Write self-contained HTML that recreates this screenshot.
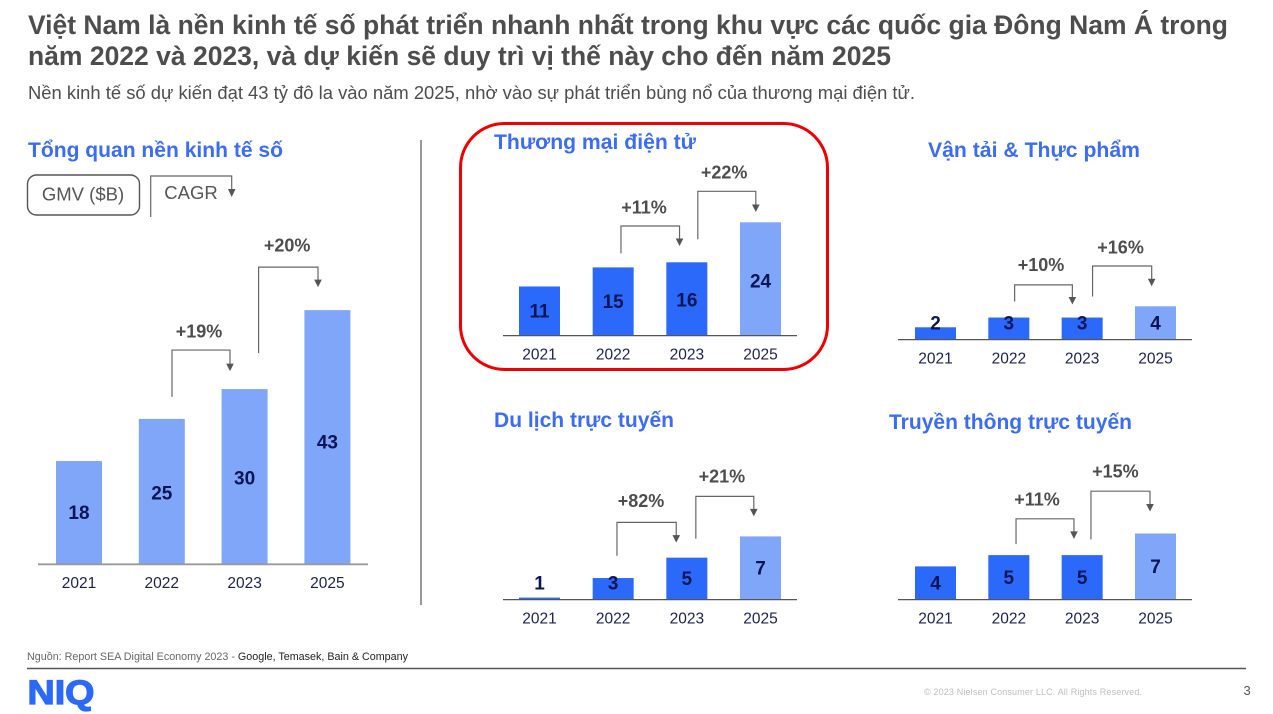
<!DOCTYPE html>
<html lang="vi">
<head>
<meta charset="utf-8">
<title>Kinh tế số Việt Nam</title>
<style>
html,body{margin:0;padding:0;background:#fff;width:1273px;height:714px;overflow:hidden}
svg{display:block}
text{font-family:"Liberation Sans","Noto Sans CJK SC",sans-serif}
.sec{font-size:21.5px;font-weight:700;fill:#3a6cf4}
</style>
</head>
<body>
<svg id="slide" xmlns="http://www.w3.org/2000/svg" width="1273" height="714" viewBox="0 0 1273 714">
  <rect x="0" y="0" width="1273" height="714" fill="#ffffff"/>
  <text x="28" y="34" font-size="27" font-weight="700" fill="#4d4d4d" textLength="1200" lengthAdjust="spacingAndGlyphs">Việt Nam là nền kinh tế số phát triển nhanh nhất trong khu vực các quốc gia Đông Nam Á trong</text>
  <text x="28" y="65" font-size="27" font-weight="700" fill="#4d4d4d" textLength="863" lengthAdjust="spacingAndGlyphs">năm 2022 và 2023, và dự kiến sẽ duy trì vị thế này cho đến năm 2025</text>
  <text x="28" y="99" font-size="18.5" fill="#4d4d4d" textLength="887" lengthAdjust="spacingAndGlyphs">Nền kinh tế số dự kiến đạt 43 tỷ đô la vào năm 2025, nhờ vào sự phát triển bùng nổ của thương mại điện tử.</text>

  <text class="sec" x="28" y="157" textLength="255" lengthAdjust="spacingAndGlyphs">Tổng quan nền kinh tế số</text>
  <text class="sec" x="494" y="149" textLength="202" lengthAdjust="spacingAndGlyphs">Thương mại điện tử</text>
  <text class="sec" x="928" y="157" textLength="212" lengthAdjust="spacingAndGlyphs">Vận tải &amp; Thực phẩm</text>
  <text class="sec" x="494" y="427" textLength="180" lengthAdjust="spacingAndGlyphs">Du lịch trực tuyến</text>
  <text class="sec" x="889" y="429" textLength="243" lengthAdjust="spacingAndGlyphs">Truyền thông trực tuyến</text>

  <rect x="27.5" y="175" width="112" height="40" rx="9" fill="none" stroke="#555555" stroke-width="1.4"/>
  <text x="83" y="200.5" font-size="18.5" fill="#555555" text-anchor="middle">GMV ($B)</text>
  <path d="M150.7 217V176H231.7V190" fill="none" stroke="#666666" stroke-width="1.2"/>
  <polygon points="228,189 235.5,189 231.7,197" fill="#555555"/>
  <text x="191" y="199" font-size="18.5" fill="#555555" text-anchor="middle">CAGR</text>

  <line x1="421" y1="140" x2="421" y2="605" stroke="#999999" stroke-width="2"/>
  <rect x="460.5" y="123.5" width="367" height="246" rx="44" fill="none" stroke="#f00000" stroke-width="3"/>

  <g id="charts"></g>

  <text x="27" y="660" font-size="10.8" fill="#666666" textLength="381" lengthAdjust="spacingAndGlyphs">Nguồn: Report SEA Digital Economy 2023 - <tspan fill="#222222">Google, Temasek, Bain &amp; Company</tspan></text>
  <line x1="27" y1="668.5" x2="1246" y2="668.5" stroke="#555555" stroke-width="1.4"/>
  <text x="27.5" y="704" font-size="34" font-weight="700" fill="#2b69fb" stroke="#2b69fb" stroke-width="1.2" textLength="67" lengthAdjust="spacingAndGlyphs">NIQ</text>
  <text x="924" y="695" font-size="9" fill="#bdbdbd" textLength="218" lengthAdjust="spacing">© 2023 Nielsen Consumer LLC. All Rights Reserved.</text>
  <text x="1243.5" y="695" font-size="13" fill="#555555">3</text>
</svg>
<script>
// Categories shared by all five charts
const years = ['2021', '2022', '2023', '2025'];

// Digital economy overview (GMV, $B)
const overviewValues = [17.6, 24.8, 29.9, 43.4];
const overviewLabels = ['18', '25', '30', '43'];
const overviewCagr = ['+19%', '+20%'];

// E-commerce
const ecommerceValues = [10.5, 14.6, 15.7, 24.3];
const ecommerceLabels = ['11', '15', '16', '24'];
const ecommerceCagr = ['+11%', '+22%'];

// Transport & food
const transportValues = [1.6, 2.9, 2.9, 4.4];
const transportLabels = ['2', '3', '3', '4'];
const transportCagr = ['+10%', '+16%'];

// Online travel
const travelValues = [0.2, 2.5, 4.9, 7.4];
const travelLabels = ['1', '3', '5', '7'];
const travelCagr = ['+82%', '+21%'];

// Online media
const mediaValues = [3.5, 4.7, 4.7, 7.0];
const mediaLabels = ['4', '5', '5', '7'];
const mediaCagr = ['+11%', '+15%'];

const NS = 'http://www.w3.org/2000/svg';
const root = document.getElementById('charts');
const DARK = '#2b69fb', LIGHT = '#7fa6f9', NAVY = '#0c1555', GREY = '#4d4d4d', LINE = '#666666';

function svgEl(tag, attrs, parent) {
  const el = document.createElementNS(NS, tag);
  for (const k in attrs) el.setAttribute(k, attrs[k]);
  parent.appendChild(el);
  return el;
}

function drawChart(name, values, labels, cagr, layout) {
  const g = svgEl('g', {}, root);
  
  

  const yOf = function (v) { return layout.base - v * layout.scale; };
  const xOf = function (i) { return layout.firstX + i * layout.step; };

  years.forEach(function (year, i) {
    const top = yOf(values[i]);
    const cx = xOf(i);
    const bar = svgEl('rect', {
      x: cx - layout.barW / 2, y: top, width: layout.barW, height: layout.base - top,
      fill: (layout.allLight || i === years.length - 1) ? LIGHT : DARK
    }, g);
    
    

    const mid = Math.min((top + layout.base) / 2, layout.base - layout.minLabel) + (layout.nudge ? layout.nudge[i] : 0);
    const val = svgEl('text', {
      x: cx, y: mid + 6.6, 'font-size': 19, 'font-weight': 700, fill: NAVY, 'text-anchor': 'middle'
    }, g);
    val.textContent = labels[i];
    
    

    const tick = svgEl('text', {
      x: cx, y: layout.base + 24, 'font-size': 15.5, fill: '#1b2050', 'text-anchor': 'middle'
    }, g);
    tick.textContent = year;
    
    
  });

  const axis = svgEl('line', {
    x1: layout.axisL, x2: layout.axisR, y1: layout.base + 0.3, y2: layout.base + 0.3,
    stroke: layout.axisColor, 'stroke-width': layout.axisW
  }, g);
  
  

  layout.brackets.forEach(function (b, k) {
    const i = k + 1;
    const x1 = xOf(i) + b.dxFrom;
    const x2 = xOf(i + 1) + b.dxTo;
    const y1 = yOf(values[i]) - b.startGap;
    const tip = yOf(values[i + 1]) - b.endGap;
    const top = tip - b.lead;

    const path = svgEl('path', {
      d: 'M' + x1 + ' ' + y1 + 'V' + top + 'H' + x2 + 'V' + (tip - 6),
      fill: 'none', stroke: LINE, 'stroke-width': 1.2
    }, g);
    
    

    const head = svgEl('polygon', {
      points: (x2 - 3.8) + ',' + (tip - 7.5) + ' ' + (x2 + 3.8) + ',' + (tip - 7.5) + ' ' + x2 + ',' + tip,
      fill: '#555555'
    }, g);
    
    

    const lab = svgEl('text', {
      x: x1 + b.labelDx, y: top + b.labelDy + 6.3, 'font-size': 18, 'font-weight': 700,
      fill: GREY, 'text-anchor': 'middle'
    }, g);
    lab.textContent = cagr[k];
    
    
  });
}

drawChart('overview', overviewValues, overviewLabels, overviewCagr, {
  base: 564, scale: 5.85, firstX: 79, step: 82.8, barW: 46, axisL: 38, axisR: 368, axisColor: '#999999', axisW: 1.8,
  allLight: true, minLabel: 16, nudge: [0, 1.5, 1.5, 5],
  brackets: [
    { dxFrom: 10.2, dxTo: -14.6, startGap: 22, endGap: 18, lead: 21, labelDx: 27, labelDy: -19 },
    { dxFrom: 14, dxTo: -9.4, startGap: 36, endGap: 23, lead: 20, labelDx: 28.5, labelDy: -22 }
  ]
});
drawChart('ecommerce', ecommerceValues, ecommerceLabels, ecommerceCagr, {
  base: 335.3, scale: 4.65, firstX: 539.5, step: 73.67, barW: 41, axisL: 503, axisR: 797, axisColor: '#555555', axisW: 1.2,
  minLabel: 16, nudge: [0, 0, 1, 2],
  brackets: [
    { dxFrom: 7.8, dxTo: -7.3, startGap: 14, endGap: 16.3, lead: 20, labelDx: 23, labelDy: -18.7 },
    { dxFrom: 11, dxTo: -4.7, startGap: 23, endGap: 10.3, lead: 20.7, labelDx: 26.3, labelDy: -19 }
  ]
});
drawChart('transport', transportValues, transportLabels, transportCagr, {
  base: 339.3, scale: 7.5, firstX: 935.5, step: 73.33, barW: 41, axisL: 898, axisR: 1192, axisColor: '#555555', axisW: 1.2,
  minLabel: 16.6,
  brackets: [
    { dxFrom: 5.8, dxTo: -9.8, startGap: 16, endGap: 13, lead: 19.7, labelDx: 26.4, labelDy: -20.3 },
    { dxFrom: 10.4, dxTo: -3.8, startGap: 21, endGap: 20, lead: 20.3, labelDx: 28, labelDy: -19 }
  ]
});
drawChart('travel', travelValues, travelLabels, travelCagr, {
  base: 599.3, scale: 8.5, firstX: 539.5, step: 73.67, barW: 41, axisL: 503, axisR: 797, axisColor: '#555555', axisW: 1.2,
  minLabel: 16.6,
  brackets: [
    { dxFrom: 3.8, dxTo: -10.6, startGap: 22.3, endGap: 15, lead: 20.3, labelDx: 24, labelDy: -21.7 },
    { dxFrom: 9, dxTo: -6.7, startGap: 19, endGap: 20, lead: 20, labelDx: 26, labelDy: -20 }
  ]
});
drawChart('media', mediaValues, mediaLabels, mediaCagr, {
  base: 599.3, scale: 9.4, firstX: 935.5, step: 73.33, barW: 41, axisL: 898, axisR: 1192, axisColor: '#555555', axisW: 1.2,
  minLabel: 16.6,
  brackets: [
    { dxFrom: 7.2, dxTo: -8.2, startGap: 11, endGap: 16.3, lead: 20, labelDx: 21, labelDy: -19.7 },
    { dxFrom: 8.8, dxTo: -5.5, startGap: 15.7, endGap: 22, lead: 20.3, labelDx: 24.4, labelDy: -20 }
  ]
});
</script>
</body>
</html>
